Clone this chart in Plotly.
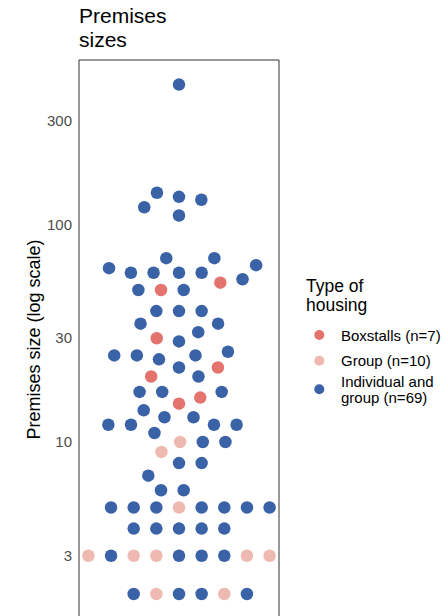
import numpy as np
import plotly.graph_objects as go

B, G, I = "Boxstalls", "Group", "Individual and group"

# Premises size per farm (square metres), in dataset row order
premises_size = [
    2, 2, 2, 2, 2, 2, 3, 3, 3, 3,
    3, 3, 3, 3, 3, 4, 4, 4, 4, 4,
    5, 5, 5, 5, 5, 5, 5, 5, 6, 6,
    8, 8, 7, 9, 10, 10, 15, 13, 13, 11,
    12, 14, 12, 10, 12, 12, 16, 17, 17, 17,
    22, 20, 20, 22, 24, 25, 25, 26, 25, 29,
    32, 30, 40, 40, 40, 35, 35, 60, 50, 50,
    60, 70, 60, 54, 50, 60, 56, 63, 70, 65,
    110, 134, 130, 140, 120, 440,
]
# Housing type of each farm
housing = [
    I, I, G, G, I, I, I, I, G, I,
    G, G, I, G, G, I, I, I, I, I,
    G, I, I, I, I, I, I, I, I, I,
    I, I, I, G, G, I, B, I, I, I,
    I, I, I, I, I, I, B, I, I, I,
    I, I, B, B, I, I, I, I, I, I,
    I, B, I, I, I, I, I, I, I, B,
    I, I, I, B, I, I, I, I, I, I,
    I, I, I, I, I, I,
]

categories = [B, G, I]
legend_lines = {B: ["Boxstalls"], G: ["Group"], I: ["Individual and", "group"]}
colors = {B: "#E4736E", G: "#EDB9B0", I: "#3A62A7"}

y_tickvals = [3, 10, 30, 100, 300]
y_ticktext = ["3", "10", "30", "100", "300"]

# ---- beeswarm layout: points placed one by one in row order ----
DOT_H = 17.6 / 217.5   # vertical extent of one dot, in log10 units
PX_PER_DOT = 22.65     # horizontal spacing of neighbouring dots, in pixels


def swarm(values):
    v = np.log10(np.asarray(values, dtype=float)) / DOT_H
    off = np.zeros(len(v))
    for i in range(len(v)):
        near = [j for j in range(i) if abs(v[i] - v[j]) < 1]
        if not near:
            continue
        near.sort(key=lambda j: abs(off[j]))
        dv = np.array([v[i] - v[j] for j in near])
        px = off[near]
        gap = np.sqrt(1 - dv ** 2)
        cand = np.concatenate([[0.0], px + gap, px - gap])
        best, best_abs = 0.0, np.inf
        for c in cand:
            if np.any(dv ** 2 + (c - px) ** 2 < 0.999):
                continue
            if abs(c) < best_abs:
                best, best_abs = c, abs(c)
        off[i] = best
    return off


offsets = swarm(premises_size)
sizes = np.array(premises_size, dtype=float)
kinds = np.array(housing)

fig = go.Figure()
for cat in categories:
    m = kinds == cat
    fig.add_trace(go.Scatter(
        x=offsets[m], y=sizes[m], mode="markers", name=cat,
        marker=dict(size=12.5, color=colors[cat], line=dict(width=0)),
        showlegend=False, hoverinfo="y",
    ))

W, H = 444, 616
L, R, T, Bm = 79, 165, 60, 0
pw, ph = W - L - R, H - T - Bm
FONT = "Liberation Sans, Arial, sans-serif"


def px_x(x):
    return (x - L) / pw


def px_y(y):
    return (H - Bm - y) / ph


def label(text, x, y, size, color="black", **kw):
    d = dict(text=text, x=px_x(x), y=px_y(y), xref="paper", yref="paper",
             xanchor="left", yanchor="middle", showarrow=False,
             font=dict(size=size, color=color, family=FONT))
    d.update(kw)
    return d


annotations = [
    label("Premises", 76.8, 15.5, 21),
    label("sizes", 76.8, 39, 21),
    label("Premises size (log scale)", 33, 339.5, 18, textangle=-90, xanchor="center"),
    label("Type of", 304.2, 286, 17.5),
    label("housing", 304.2, 305, 17.5),
]

counts = {c: int((kinds == c).sum()) for c in categories}
legend_rows = [(B, 335), (G, 360.7), (I, 389.3)]
shapes = []
for cat, yc in legend_rows:
    lines = list(legend_lines[cat])
    lines[-1] += f" (n={counts[cat]})"
    step = 16.5
    first = yc - step * (len(lines) - 1) / 2
    for k, ln in enumerate(lines):
        annotations.append(label(ln, 339, first + k * step, 15))
    shapes.append(dict(type="circle", xref="paper", yref="paper",
                       x0=px_x(314.3), x1=px_x(324.3), y0=px_y(yc + 5), y1=px_y(yc - 5),
                       fillcolor=colors[cat], line=dict(width=0)))

# panel frame (left, top, right)
frame = dict(color="#333333", width=1)
shapes += [
    dict(type="line", xref="paper", yref="paper", x0=0, x1=0, y0=0, y1=1, line=frame),
    dict(type="line", xref="paper", yref="paper", x0=0, x1=1, y0=1, y1=1, line=frame),
    dict(type="line", xref="paper", yref="paper", x0=1, x1=1, y0=0, y1=1, line=frame),
]

half = pw / 2 / PX_PER_DOT
fig.update_layout(
    width=W, height=H, margin=dict(l=L, r=R, t=T, b=Bm, pad=0),
    paper_bgcolor="white", plot_bgcolor="white",
    font=dict(family=FONT),
    xaxis=dict(range=[-half, half], visible=False, fixedrange=True),
    yaxis=dict(type="log", range=[0.2, 0.2 + ph / 217.5], tickvals=y_tickvals,
               ticktext=y_ticktext, showgrid=False, zeroline=False, showline=False,
               ticks="", ticklabelstandoff=6,
               tickfont=dict(size=15, color="#4D4D4D", family=FONT), fixedrange=True),
    annotations=annotations, shapes=shapes, showlegend=False,
)

fig.write_html("out.html")
